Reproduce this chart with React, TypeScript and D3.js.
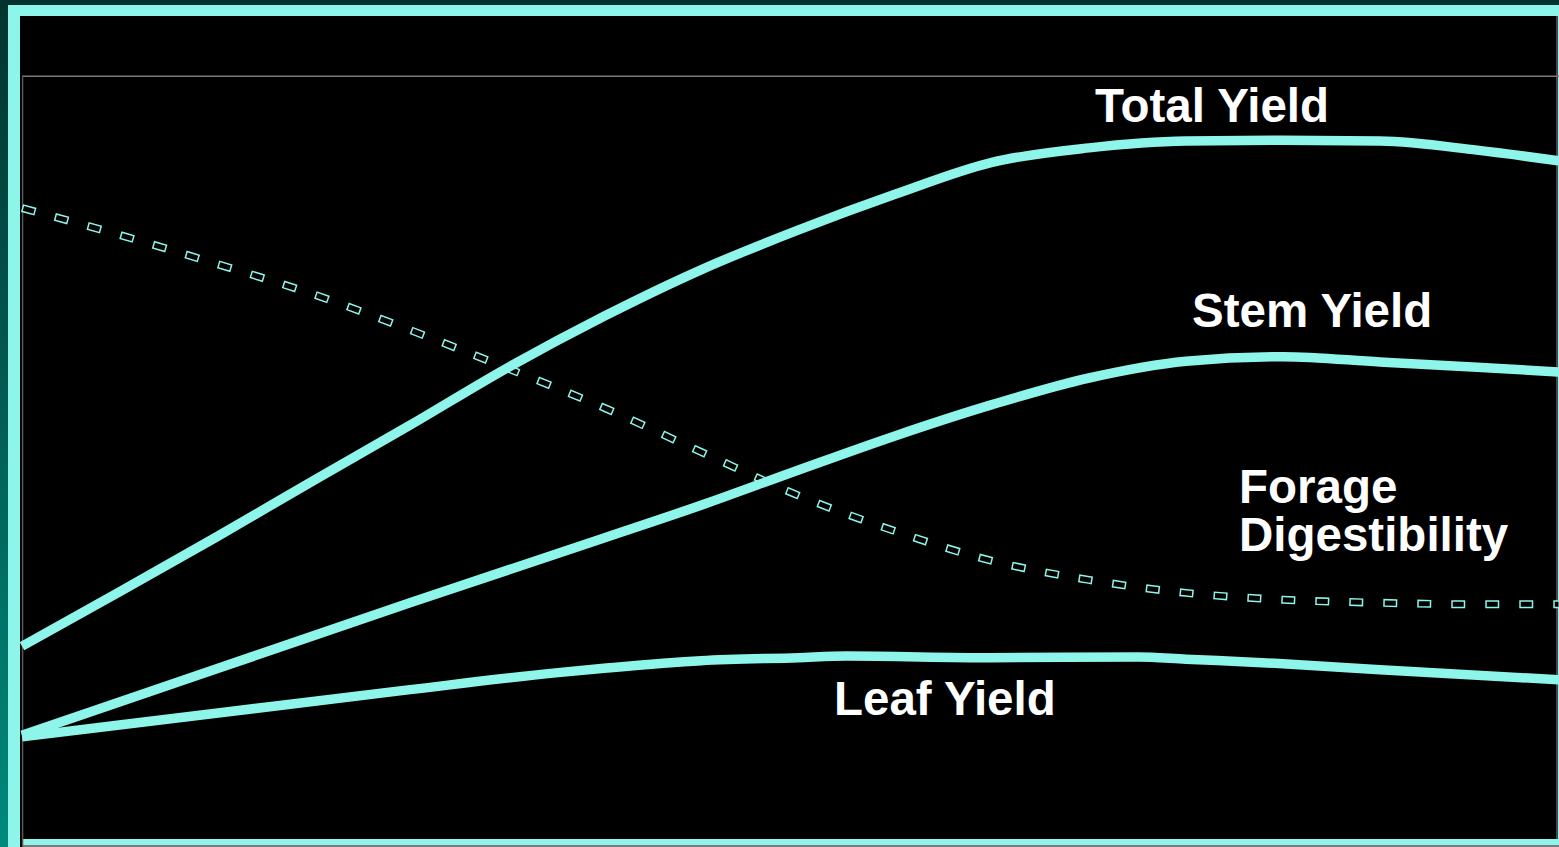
import React from "react";
import * as d3 from "d3";

// growth stage (x) and relative value (y, 0-100)
const totalStage = [0, 0.5, 1, 1.5, 2, 2.5, 3, 3.5, 4, 4.5, 5, 5.5, 6, 6.5, 7, 7.5, 7.92];
const totalYield = [25.3, 32.4, 39.6, 47.0, 54.3, 61.8, 68.6, 74.7, 79.9, 84.6, 88.8, 90.7, 91.6, 91.7, 91.6, 90.4, 89.0];

const stemStage = [0, 1, 2, 3, 3.5, 4, 4.5, 5, 5.5, 6, 6.5, 7, 7.5, 7.92];
const stemYield = [13.6, 22.3, 31.0, 39.5, 43.8, 48.4, 52.9, 57.0, 60.5, 62.7, 63.3, 62.6, 61.9, 61.3];

const leafStage = [0, 1, 2, 2.75, 3, 3.5, 4, 4.25, 5, 5.75, 6, 6.5, 7, 7.92];
const leafYield = [13.4, 16.5, 19.6, 21.8, 22.4, 23.4, 23.8, 24.0, 23.8, 23.9, 23.6, 23.0, 22.2, 20.9];

const digStage = [0, 0.5, 1, 1.5, 2, 2.5, 3, 3.5, 4, 4.5, 5, 5.5, 6, 6.5, 7, 7.5, 7.92];
const digestibility = [82.8, 79.3, 75.5, 71.5, 66.8, 61.8, 56.6, 50.8, 45.1, 40.4, 36.5, 34.0, 32.3, 31.4, 31.0, 30.8, 30.8];

const labels = [
  { lines: ["Total Yield"], x: 1095, y: 122 },
  { lines: ["Stem Yield"], x: 1192, y: 327 },
  { lines: ["Forage", "Digestibility"], x: 1239, y: 503 },
  { lines: ["Leaf Yield"], x: 834, y: 715 },
];

const W = 1559;
const H = 847;
const TEAL = "#8df5ea";

export default function App() {
  const x = d3.scaleLinear().domain([0, 8]).range([22, 1574]);
  const y = d3.scaleLinear().domain([0, 100]).range([839, 77]);

  const line = (xs: number[], ys: number[]) =>
    d3
      .line<number>()
      .x((_, i) => x(xs[i]))
      .y((d) => y(d))
      .curve(d3.curveMonotoneX)(ys) as string;

  const solid = [
    line(totalStage, totalYield),
    line(stemStage, stemYield),
    line(leafStage, leafYield),
  ];
  const dig = line(digStage, digestibility);

  return (
    <svg
      width={W}
      height={H}
      style={{ position: "absolute", left: 0, top: 0 }}
    >
      <defs>
        <linearGradient id="edge" x1="0" y1="0" x2="0" y2="1">
          <stop offset="0" stopColor="#03332f" />
          <stop offset="1" stopColor="#008a7c" />
        </linearGradient>
        <clipPath id="plot">
          <rect x={20} y={16} width={W - 20} height={823} />
        </clipPath>
      </defs>

      {/* frame */}
      <rect x={0} y={0} width={W} height={H} fill="#000" />
      <rect x={0} y={0} width={W} height={5} fill="#03332f" />
      <rect x={0} y={0} width={8} height={H} fill="url(#edge)" />
      <rect x={8} y={5} width={W - 8} height={11} fill={TEAL} />
      <rect x={8} y={5} width={12} height={H - 5} fill={TEAL} />
      <rect x={22} y={839} width={W - 22} height={6} fill={TEAL} />
      <rect x={22} y={845} width={W - 22} height={2} fill="#7a7a7a" />
      <rect x={1558} y={16} width={1} height={823} fill={TEAL} />
      <line x1={22} x2={W} y1={76.3} y2={76.3} stroke="#7a7a7a" strokeWidth={1.6} />
      <line x1={22.6} x2={22.6} y1={76} y2={H} stroke="#5a5a5a" strokeWidth={1.4} />
      <line x1={1557} x2={1557} y1={16} y2={839} stroke="#7a7a7a" strokeWidth={1.2} />

      <g clipPath="url(#plot)">
        {/* digestibility: outlined dashes */}
        <path d={dig} fill="none" stroke={TEAL} strokeWidth={8} strokeDasharray="14 20" />
        <path
          d={dig}
          fill="none"
          stroke="#000"
          strokeWidth={5}
          strokeDasharray="11 23"
          strokeDashoffset={-1.5}
        />
        {solid.map((d, i) => (
          <path key={i} d={d} fill="none" stroke={TEAL} strokeWidth={9.5} />
        ))}
      </g>

      {labels.map((l, i) => (
        <text
          key={i}
          x={l.x}
          y={l.y}
          fill="#fff"
          fontFamily="'Liberation Sans', Arial, sans-serif"
          fontWeight="bold"
          fontSize={47.5}
        >
          {l.lines.map((t, j) => (
            <tspan key={j} x={l.x} dy={j === 0 ? 0 : 48}>
              {t}
            </tspan>
          ))}
        </text>
      ))}
    </svg>
  );
}
